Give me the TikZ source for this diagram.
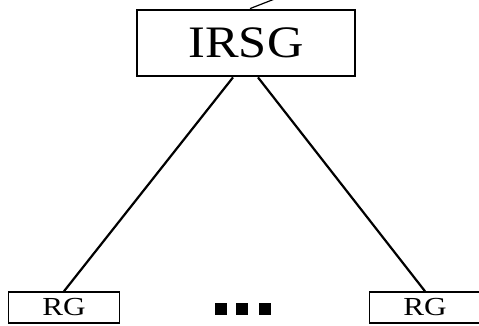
\documentclass[tikz,border=0pt]{standalone}
\usepackage{fontspec}
\setmainfont{Liberation Serif}
\usetikzlibrary{positioning, calc}

\begin{document}
\begin{tikzpicture}[x=1pt, y=-1pt,
    group/.style={draw, line width=2.8pt, minimum width=218pt, minimum height=66pt, inner sep=0pt},
    sub/.style={draw, line width=1.5pt, minimum width=111pt, minimum height=31pt, inner sep=0pt},
    link/.style={line width=2.2pt}]
\useasboundingbox (0,0) rectangle (479,326);

% top group and its two subgroups
\node[group] (irsg) at (246,43) {\fontsize{45}{45}\selectfont\scalebox{1.12}[1]{IRSG}};
\node[sub] (rg-left) at (64,307.5) {\fontsize{26}{26}\selectfont\scalebox{1.2}[1]{RG}};
\node[sub] (rg-right) at (425,307.5) {\fontsize{26}{26}\selectfont\scalebox{1.2}[1]{RG}};

% link to the parent, cut off at the top
\coordinate (parent) at (290,-7);
\draw[line width=1.2pt] ([xshift=4pt]irsg.north) -- (parent);

\draw[link] ([xshift=-13pt]irsg.south) -- (rg-left.north);
\draw[link] ([xshift=12pt]irsg.south) -- (rg-right.north);

% dots between the subgroups
\foreach \x in {221, 242, 265} {
    \fill (\x-6,303) rectangle (\x+6,315);
};
\end{tikzpicture}
\end{document}
